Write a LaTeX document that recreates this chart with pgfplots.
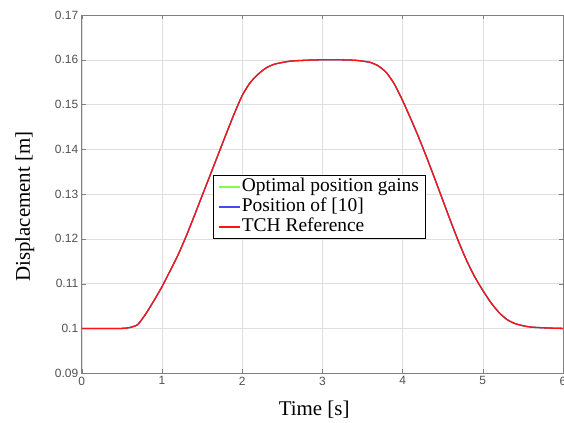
\documentclass[border=0pt]{standalone}
\usepackage{fontspec}
\setmainfont{Liberation Serif}
\newfontfamily\ticksf{Liberation Sans}
\usepackage{pgfplots}
\pgfplotsset{compat=1.18}
\definecolor{mgreen}{RGB}{128,255,80}
\definecolor{mblue}{RGB}{70,70,255}
\definecolor{mred}{RGB}{255,20,20}
\definecolor{tickgray}{RGB}{80,80,80}
\pgfplotstableread{
t v
0.0 0.1000
0.3 0.1000
0.5 0.1000
0.6 0.1002
0.7 0.1009
0.8 0.1033
0.9 0.1062
1.0 0.1093
1.1 0.1128
1.2 0.1164
1.3 0.1205
1.4 0.1250
1.5 0.1296
1.6 0.1342
1.7 0.1388
1.8 0.1434
1.9 0.1479
2.0 0.1520
2.1 0.1549
2.2 0.1568
2.3 0.1582
2.4 0.1590
2.5 0.1594
2.6 0.1597
2.8 0.1599
3.0 0.1600
3.2 0.1600
3.4 0.1599
3.5 0.1597
3.6 0.1594
3.7 0.1586
3.8 0.1571
3.9 0.1545
4.0 0.1509
4.1 0.1469
4.2 0.1427
4.3 0.1382
4.4 0.1335
4.5 0.1287
4.6 0.1239
4.7 0.1193
4.8 0.1151
4.9 0.1115
5.0 0.1085
5.1 0.1058
5.2 0.1036
5.3 0.1020
5.4 0.1011
5.5 0.1006
5.6 0.1003
5.8 0.1001
6.0 0.1000
}\datatab
\begin{document}
\begin{tikzpicture}
\begin{axis}[name=ax, scale only axis, width=481bp, height=358bp,
  xmin=0, xmax=6, ymin=0.09, ymax=0.17,
  xtick={0,1,2,3,4,5,6},
  ytick={0.09,0.10,0.11,0.12,0.13,0.14,0.15,0.16,0.17},
  yticklabels={0.09,0.1,0.11,0.12,0.13,0.14,0.15,0.16,0.17},
  tick label style={font=\fontsize{12}{12}\selectfont\ticksf, text=tickgray},
  /pgf/number format/assume math mode=true,
  grid=major, major grid style={gray!25, line width=0.4pt},
  axis line style={gray, line width=0.8pt}, tick style={gray}, tick align=inside,
  major tick length=4bp,
  xlabel={Time [s]}, ylabel={Displacement [m]},
  label style={font=\fontsize{21}{21}\selectfont},
  xlabel style={at={(axis description cs:0.483,-0.103)}, anchor=center},
  ylabel style={at={(axis description cs:-0.118,0.465)}, anchor=center},
  legend style={at={(0.273,0.553)}, anchor=north west, font=\fontsize{19.5}{20}\selectfont,
    row sep=0pt, nodes={inner sep=0.8pt, text height=14bp, text depth=4.4bp},
    inner ysep=1.5pt, inner xsep=5pt},
  legend cell align=left,
  legend image code/.code={\draw[#1, line width=1.5pt] (0cm,0cm) -- (0.75cm,0cm);},
  every axis plot/.append style={line width=1.3pt, smooth, tension=0.4},
]
\addplot[mgreen] table[x=t,y=v]{\datatab};
\addlegendentry{Optimal position gains}
\addplot[mblue] table[x=t,y=v]{\datatab};
\addlegendentry{Position of [10]}
\addplot[mred] table[x=t,y=v]{\datatab};
\addlegendentry{TCH Reference}
\end{axis}
\pgfresetboundingbox
\path[use as bounding box] ([shift={(-81.7bp,-49bp)}]ax.south west) rectangle ([shift={(1bp,15bp)}]ax.north east);
\end{tikzpicture}
\end{document}
